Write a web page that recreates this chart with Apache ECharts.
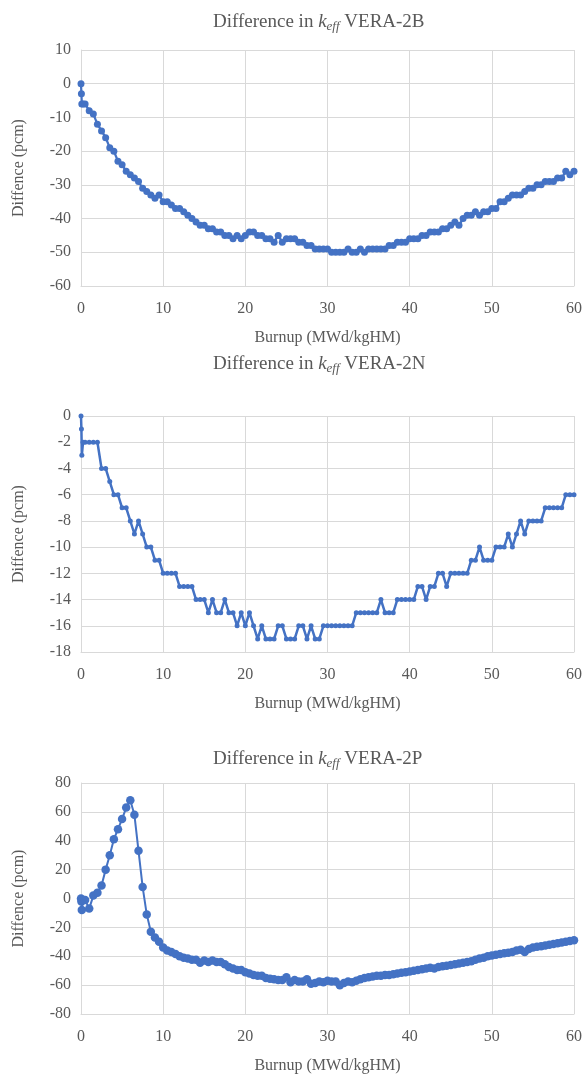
<!DOCTYPE html>
<html>
<head>
<meta charset="utf-8">
<script src="https://cdn.jsdelivr.net/npm/echarts@6/dist/echarts.min.js"></script>
<style>
  html, body { margin: 0; padding: 0; background: #fff; }
  #chart { width: 585px; height: 1075px; }
</style>
</head>
<body>
<div id="chart"></div>
<script>
// burnup steps (MWd/kgHM), shared by all three cases
const burnup = [
  0, 0.05, 0.1, 0.25,
  0.5, 1, 1.5, 2, 2.5, 3, 3.5, 4, 4.5, 5,
  5.5, 6, 6.5, 7, 7.5, 8, 8.5, 9, 9.5, 10,
  10.5, 11, 11.5, 12, 12.5, 13, 13.5, 14, 14.5, 15,
  15.5, 16, 16.5, 17, 17.5, 18, 18.5, 19, 19.5, 20,
  20.5, 21, 21.5, 22, 22.5, 23, 23.5, 24, 24.5, 25,
  25.5, 26, 26.5, 27, 27.5, 28, 28.5, 29, 29.5, 30,
  30.5, 31, 31.5, 32, 32.5, 33, 33.5, 34, 34.5, 35,
  35.5, 36, 36.5, 37, 37.5, 38, 38.5, 39, 39.5, 40,
  40.5, 41, 41.5, 42, 42.5, 43, 43.5, 44, 44.5, 45,
  45.5, 46, 46.5, 47, 47.5, 48, 48.5, 49, 49.5, 50,
  50.5, 51, 51.5, 52, 52.5, 53, 53.5, 54, 54.5, 55,
  55.5, 56, 56.5, 57, 57.5, 58, 58.5, 59, 59.5, 60
];

// difference in keff (pcm)
const diff2B = [
  0, -3, -6, -6,
  -6, -8, -9, -12, -14, -16, -19, -20, -23, -24,
  -26, -27, -28, -29, -31, -32, -33, -34, -33, -35,
  -35, -36, -37, -37, -38, -39, -40, -41, -42, -42,
  -43, -43, -44, -44, -45, -45, -46, -45, -46, -45,
  -44, -44, -45, -45, -46, -46, -47, -45, -47, -46,
  -46, -46, -47, -47, -48, -48, -49, -49, -49, -49,
  -50, -50, -50, -50, -49, -50, -50, -49, -50, -49,
  -49, -49, -49, -49, -48, -48, -47, -47, -47, -46,
  -46, -46, -45, -45, -44, -44, -44, -43, -43, -42,
  -41, -42, -40, -39, -39, -38, -39, -38, -38, -37,
  -37, -35, -35, -34, -33, -33, -33, -32, -31, -31,
  -30, -30, -29, -29, -29, -28, -28, -26, -27, -26
];

const diff2N = [
  0, -1, -3, -2,
  -2, -2, -2, -2, -4, -4, -5, -6, -6, -7,
  -7, -8, -9, -8, -9, -10, -10, -11, -11, -12,
  -12, -12, -12, -13, -13, -13, -13, -14, -14, -14,
  -15, -14, -15, -15, -14, -15, -15, -16, -15, -16,
  -15, -16, -17, -16, -17, -17, -17, -16, -16, -17,
  -17, -17, -16, -16, -17, -16, -17, -17, -16, -16,
  -16, -16, -16, -16, -16, -16, -15, -15, -15, -15,
  -15, -15, -14, -15, -15, -15, -14, -14, -14, -14,
  -14, -13, -13, -14, -13, -13, -12, -12, -13, -12,
  -12, -12, -12, -12, -11, -11, -10, -11, -11, -11,
  -10, -10, -10, -9, -10, -9, -8, -9, -8, -8,
  -8, -8, -7, -7, -7, -7, -7, -6, -6, -6
];

const diff2P = [
  0, -2, -8, -1,
  -1, -7, 2, 4, 9, 20, 30, 41, 48, 55,
  63, 68, 58, 33, 8, -11, -23, -27, -30, -34,
  -36, -37, -38.5, -40, -41, -41.5, -42.5, -42.5, -44.5, -43,
  -44, -43, -44, -44, -45.5, -47.5, -48.5, -49.5, -49.5, -51,
  -52, -53, -53.5, -53.5, -55, -55.5, -56, -56.5, -56.5, -54.5,
  -58, -56.5, -57.5, -57.5, -56, -59, -58.5, -57.5, -58, -57,
  -57.5, -57.5, -60, -58.5, -57.5, -58, -57, -56, -55, -54.5,
  -54, -53.5, -53.5, -53, -53, -52.5, -52, -51.5, -51, -50.5,
  -50, -49.5, -49, -48.5, -48, -48.5, -47.5, -47, -46.5, -46,
  -45.5, -45, -44.5, -44, -43.5, -42.5, -41.5, -41, -40, -39.5,
  -39, -38.5, -38, -37.5, -37, -36, -35.5, -37, -35, -34,
  -33.5, -33, -32.5, -32, -31.5, -31, -30.5, -30, -29.5, -29
];

const caseNames = ['VERA-2B', 'VERA-2N', 'VERA-2P'];
const yRanges = [[-60, 10, 10], [-18, 0, 2], [-80, 80, 20]];

const FONT = '"Liberation Serif", "Times New Roman", serif';
const TEXT = '#595959';
const GRID = '#d9d9d9';
const BLUE = '#4472C4';

const chart = echarts.init(document.getElementById('chart'));

const tops = [50, 416, 783];
const heights = [236, 236, 235];
const titleTops = [6, 348, 743];

const titleRich = {
  a: { fontFamily: FONT, fontSize: 19, color: TEXT, fontWeight: 'normal' },
  k: { fontFamily: FONT, fontSize: 19, color: TEXT, fontWeight: 'normal', fontStyle: 'italic' },
  s: { fontFamily: FONT, fontSize: 13, color: TEXT, fontWeight: 'normal', fontStyle: 'italic', padding: [9, 0, 0, 0] }
};

const pairs = (ys) => burnup.map((x, i) => [x, ys[i]]);
const seriesData = [diff2B, diff2N, diff2P];
const symSizes = [7, 5, 8.5];
const lineWidths = [2.25, 2.5, 2];

chart.setOption({
  animation: false,
  backgroundColor: '#fff',
  title: caseNames.map((n, i) => ({
    text: '{a|Difference in }{k|k}{s|eff}{a| ' + n + '}',
    left: 208,
    top: titleTops[i],
    textStyle: { fontWeight: 'normal', rich: titleRich }
  })),
  grid: tops.map((t, i) => ({
    left: 81, right: 10, top: t, height: heights[i], containLabel: false
  })),
  xAxis: tops.map((t, i) => ({
    type: 'value',
    gridIndex: i,
    min: 0, max: 60, interval: 10,
    name: 'Burnup (MWd/kgHM)',
    nameLocation: 'middle',
    nameGap: 44,
    nameTextStyle: { fontFamily: FONT, fontSize: 16, color: TEXT },
    axisLine: { show: true, onZero: false, lineStyle: { color: GRID } },
    axisTick: { show: false },
    axisLabel: { fontFamily: FONT, fontSize: 16, color: TEXT, margin: 15 },
    splitLine: { show: true, lineStyle: { color: GRID, width: 1 } }
  })),
  yAxis: yRanges.map((r, i) => ({
    type: 'value',
    gridIndex: i,
    min: r[0], max: r[1], interval: r[2],
    name: 'Diffence (pcm)',
    nameLocation: 'middle',
    nameRotate: 90,
    nameGap: 54,
    nameTextStyle: { fontFamily: FONT, fontSize: 16, color: TEXT },
    axisLine: { show: true, lineStyle: { color: GRID } },
    axisTick: { show: false },
    axisLabel: { fontFamily: FONT, fontSize: 16, color: TEXT, margin: 10 },
    splitLine: { show: true, lineStyle: { color: GRID, width: 1 } }
  })),
  series: seriesData.map((d, i) => ({
    type: 'line',
    xAxisIndex: i,
    yAxisIndex: i,
    data: pairs(d),
    symbol: 'circle',
    symbolSize: symSizes[i],
    showAllSymbol: true,
    lineStyle: { color: BLUE, width: lineWidths[i] },
    itemStyle: { color: BLUE },
    emphasis: { disabled: true }
  }))
});
</script>
</body>
</html>
